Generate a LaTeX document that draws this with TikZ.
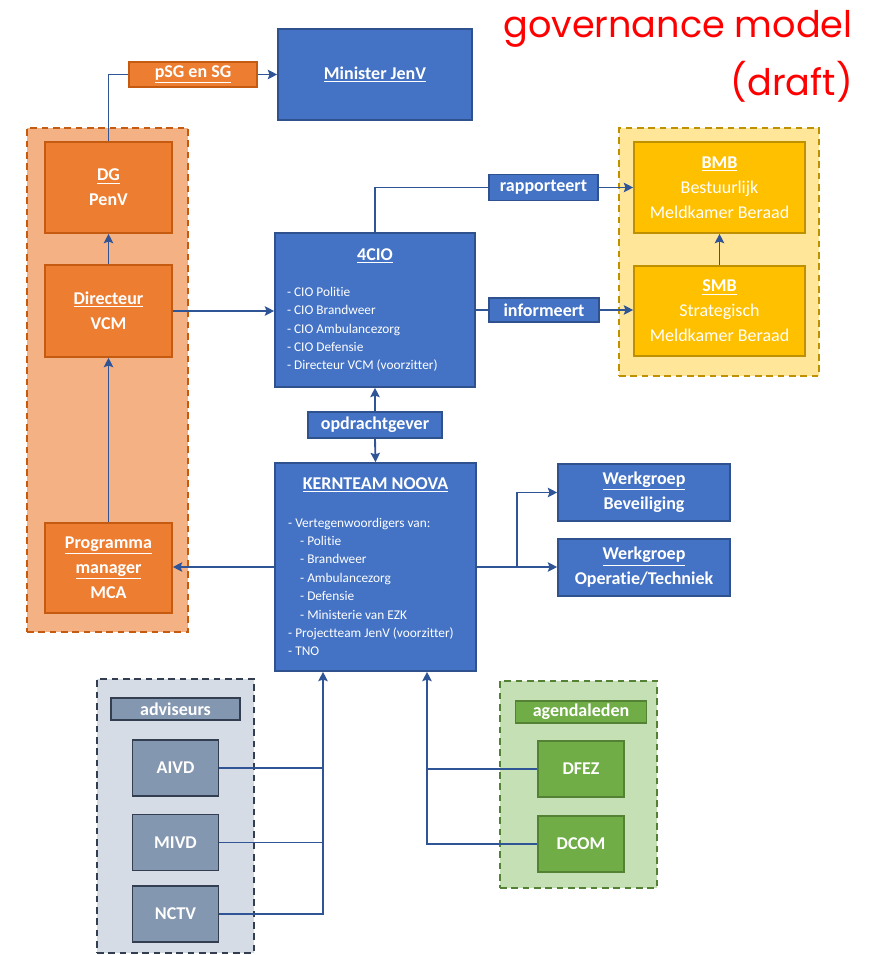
\documentclass[tikz,border=0pt]{standalone}
\usepackage{fontspec}
\setmainfont{Carlito}[Ligatures=NoCommon]
\newfontfamily\govfamily{Poppins}
\usepackage{tikz}
\usetikzlibrary{positioning,arrows.meta,calc}
\definecolor{conn}     {HTML}{2F5597}
\definecolor{blufill}  {HTML}{4472C4}
\definecolor{bluline}  {HTML}{2F528F}
\definecolor{orafill}  {HTML}{ED7D31}
\definecolor{oraline}  {HTML}{C55A11}
\definecolor{oragrp}   {HTML}{F4B183}
\definecolor{yelfill}  {HTML}{FFC000}
\definecolor{yelline}  {HTML}{BF9000}
\definecolor{yelgrp}   {HTML}{FFE699}
\definecolor{grefill}  {HTML}{8497B0}
\definecolor{greline}  {HTML}{333F50}
\definecolor{gregrp}   {HTML}{D6DCE5}
\definecolor{grnfill}  {HTML}{70AD47}
\definecolor{grnline}  {HTML}{548235}
\definecolor{grngrp}   {HTML}{C5E0B4}
\definecolor{govred}   {HTML}{FF0000}
\newcommand{\boxfont}{\fontsize{13.5}{18.75}\selectfont}
\newcommand{\listfont}{\fontsize{10}{13.8}\selectfont}
\newcommand{\govfont}{\fontsize{27.5}{43.5}\selectfont\govfamily}
\newcommand{\lst}[2]{\parbox{#1}{\raggedright\listfont\mdseries #2}}
\tikzset{
  >=Stealth,
  % --- nodes
  box/.style    = {draw, line width=1.2pt, align=center, text=white, inner sep=2pt,
                   font=\boxfont\bfseries},
  blu/.style    = {box, draw=bluline, fill=blufill},
  ora/.style    = {box, draw=oraline, fill=orafill},
  yel/.style    = {box, draw=yelline, fill=yelfill},
  gre/.style    = {box, draw=greline, fill=grefill},
  grn/.style    = {box, draw=grnline, fill=grnfill},
  grp/.style    = {line width=1.4pt, dash pattern=on 5pt off 3.5pt, inner sep=0pt},
  govtitle/.style = {font=\govfont, text=govred, align=right, inner sep=0pt},
  % --- edges
  ln/.style     = {line width=1.4pt, draw=conn},
  e/.style      = {ln, -{Stealth[length=7pt,width=7pt,inset=1.2pt]}},
}
\begin{document}
\begin{tikzpicture}[x=0.75pt, y=-0.75pt]
  \useasboundingbox (0,0) rectangle (877,955);

  % groups behind the boxes
  \node[grp, draw=oraline, fill=oragrp, minimum width=120.75pt, minimum height=378pt] (ogrp) at (107.5,380) {};
  \node[grp, draw=yelline, fill=yelgrp, minimum width=150pt, minimum height=186pt] (ygrp) at (719,252) {};
  \node[grp, draw=greline, fill=gregrp, minimum width=117.75pt, minimum height=205.5pt] (agrp) at (175.5,816) {};
  \node[grp, draw=grnline, fill=grngrp, minimum width=117.75pt, minimum height=155.25pt] (ggrp) at (578.5,784.5) {};

  \node[govtitle, anchor=north east] (title) at (853,10) {governance model\\(draft)};

  \node[blu, minimum width=145.5pt, minimum height=68.25pt] (minister) at (375,74.5) {\underline{Minister JenV}};
  \node[ora, minimum width=96pt, minimum height=18.75pt] (psg) at (193,74.5) {\underline{pSG en SG}};

  \node[ora, minimum width=95.25pt, minimum height=68.25pt] (dg) at (108.5,187.5) {\underline{DG}\\PenV};
  \node[ora, minimum width=95.25pt, minimum height=69pt] (dirvcm) at (108.5,311) {\underline{Directeur}\\VCM};
  \node[ora, minimum width=95.25pt, minimum height=67.5pt] (prog) at (108.5,568) {\underline{Programma}\\\underline{manager}\\MCA};

  \node[blu, minimum width=150pt, minimum height=115.5pt] (cio) at (375,310)
    {\underline{4CIO}\\[17pt]
     \lst{132pt}{- CIO Politie\\- CIO Brandweer\\- CIO Ambulancezorg\\- CIO Defensie\\- Directeur VCM (voorzitter)}};

  \node[blu, minimum width=81.75pt, minimum height=19.5pt] (rapp) at (543.5,187.5) {rapporteert};
  \node[blu, minimum width=82.5pt, minimum height=18pt] (info) at (544,310) {informeert};

  \node[yel, minimum width=128.25pt, minimum height=68.25pt] (bmb) at (719.5,187.5) {\underline{BMB}\\\mdseries Bestuurlijk\\\mdseries Meldkamer Beraad};
  \node[yel, minimum width=128.25pt, minimum height=67.5pt] (smb) at (719.5,311) {\underline{SMB}\\\mdseries Strategisch\\\mdseries Meldkamer Beraad};

  \node[blu, minimum width=100.5pt, minimum height=19.5pt] (opd) at (375,425) {opdrachtgever};

  \node[blu, minimum width=150.75pt, minimum height=156pt] (kern) at (375.5,567)
    {\underline{KERNTEAM NOOVA}\\[18pt]
     \lst{131pt}{- Vertegenwoordigers van:\\
     \hspace*{9pt}- Politie\\
     \hspace*{9pt}- Brandweer\\
     \hspace*{9pt}- Ambulancezorg\\
     \hspace*{9pt}- Defensie\\
     \hspace*{9pt}- Ministerie van EZK\\
     - Projectteam JenV (voorzitter)\\
     - TNO}};

  \node[blu, minimum width=129pt, minimum height=42.75pt] (wbev) at (644,492.5) {\underline{Werkgroep}\\Beveiliging};
  \node[blu, minimum width=129pt, minimum height=42.75pt] (wop) at (644,567.5) {\underline{Werkgroep}\\Operatie/Techniek};

  \node[gre, minimum width=96.75pt, minimum height=16.5pt] (advlbl) at (175.5,709) {adviseurs};
  \node[gre, minimum width=64.5pt, minimum height=42pt] (aivd) at (175.5,768) {AIVD};
  \node[gre, minimum width=64.5pt, minimum height=42pt] (mivd) at (175.5,842.5) {MIVD};
  \node[gre, minimum width=64.5pt, minimum height=42pt] (nctv) at (175.5,914) {NCTV};

  \node[grn, minimum width=98.25pt, minimum height=16.5pt] (aglbl) at (581,712) {agendaleden};
  \node[grn, minimum width=64.5pt, minimum height=42pt] (dfez) at (581,769) {DFEZ};
  \node[grn, minimum width=64.5pt, minimum height=42pt] (dcom) at (581,844) {DCOM};

  \coordinate (abus) at (323,0);
  \coordinate (gbus) at (427,0);

  \draw[e] (dirvcm.north) -- (dg.south);
  \draw[e] (prog.north) -- (dirvcm.south);
  \draw[ln] (dg.north) |- (psg.west);
  \draw[e] (psg.east) -- (minister.west);
  \draw[e] (dirvcm.east) -- (dirvcm.east -| cio.west);
  \draw[ln] (cio.north) |- (rapp.west);
  \draw[e] (rapp.east) -- (bmb.west);
  \draw[ln] (cio.east |- info) -- (info.west);
  \draw[e] (info.east) -- (info.east -| smb.west);
  \draw[e] (smb.north) -- (bmb.south);
  \draw[e] (opd.north) -- (cio.south);
  \draw[e] (opd.south) -- (kern.north);
  \draw[e] (kern.east) -- (kern.east -| wop.west);
  \draw[e] ($(kern.east)!0.5!(wop.west)$) |- (wbev.west);
  \draw[e] (kern.west) -- (kern.west -| prog.east);
  \draw[ln] (aivd.east) -- (aivd.east -| abus);
  \draw[ln] (mivd.east) -- (mivd.east -| abus);
  \draw[e] (nctv.east) -| (abus |- kern.south);
  \draw[ln] (dfez.west) -- (dfez.west -| gbus);
  \draw[e] (dcom.west) -| (gbus |- kern.south);
\end{tikzpicture}
\end{document}
